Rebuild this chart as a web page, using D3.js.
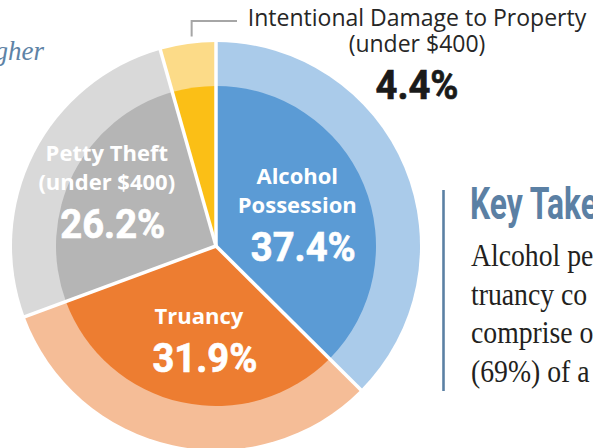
<!DOCTYPE html>
<html><head><meta charset="utf-8">
<script src="https://cdn.jsdelivr.net/npm/d3@7"></script>
<style>html,body{margin:0;padding:0;background:#fff;overflow:hidden}</style>
</head><body>
<svg id="c" width="593" height="448"></svg>
<script>
// ---- data ----
const categories = ["Alcohol Possession", "Truancy", "Petty Theft (under $400)", "Intentional Damage to Property (under $400)"];
const labelLines = [["Alcohol", "Possession"], ["Truancy"], ["Petty Theft", "(under $400)"], ["Intentional Damage to Property", "(under $400)"]];
const values = [37.4, 31.9, 26.2, 4.4];
const innerColors = ["#5B9BD5", "#ED7D31", "#B5B5B5", "#FBBF16"];
const outerColors = ["#AACBEA", "#F5BD97", "#D9D9D9", "#FCDB88"];
const titleFragment = "gher";
const takeawayTitle = "Key Takeaways";
const takeawayLines = ["Alcohol pe", "truancy co", "comprise o", "(69%) of a"];

// ---- layout ----
const W = 593, H = 448;
const cx = 216, cy = 246, rIn = 160, rOut = 204;
const insideLabel = { r: [87, 96, 122], tweak: [1.7, -2, -0.5] };
const svg = d3.select("#c");
svg.append("rect").attr("width", W).attr("height", H).attr("fill", "#fff");

const fmt = v => d3.format(".1f")(v) + "%";
const pie = d3.pie().sort(null).value(d => d);
const arcsData = pie(values);
const outerArc = d3.arc().innerRadius(0).outerRadius(rOut);
const innerArc = d3.arc().innerRadius(0).outerRadius(rIn);

const g = svg.append("g").attr("transform", `translate(${cx},${cy})`);
g.selectAll("path.outer").data(arcsData).join("path").attr("class", "outer")
  .attr("d", outerArc).attr("fill", (d, i) => outerColors[i]);
g.selectAll("path.inner").data(arcsData).join("path").attr("class", "inner")
  .attr("d", innerArc).attr("fill", (d, i) => innerColors[i]);
const pt = (a, r) => [Math.sin(a) * r, -Math.cos(a) * r];
g.selectAll("line.sep").data(arcsData).join("line").attr("class", "sep")
  .attr("x1", 0).attr("y1", 0)
  .attr("x2", d => pt(d.startAngle, rOut + 1)[0])
  .attr("y2", d => pt(d.startAngle, rOut + 1)[1])
  .attr("stroke", "#fff").attr("stroke-width", 3.5);

// inside labels
const nameFont = "'Open Sans', 'Noto Sans', sans-serif";
const numFont = "Roboto, 'Liberation Sans', sans-serif";
function numText(sel, x, y, color, txt) {
  return sel.append("text").attr("transform", `translate(${x},${y}) scale(0.93,1)`)
    .attr("text-anchor", "middle").attr("fill", color)
    .attr("stroke", color).attr("stroke-width", 0.7)
    .style("font-family", numFont).style("font-weight", 700).style("font-size", "41px")
    .text(txt);
}
arcsData.slice(0, 3).forEach((d, i) => {
  const a = (d.startAngle + d.endAngle) / 2 + insideLabel.tweak[i] * Math.PI / 180;
  const [x, y] = pt(a, insideLabel.r[i]);
  const lines = labelLines[i];
  const blockH = 16 + (lines.length - 1) * 29 + 48;
  const top = y - blockH / 2;
  lines.forEach((t, k) => {
    g.append("text").attr("x", x).attr("y", top + 16 + k * 29)
      .attr("text-anchor", "middle").attr("fill", "#fff")
      .style("font-family", nameFont).style("font-weight", 700).style("font-size", "22px")
      .text(t);
  });
  const by = top + 16 + (lines.length - 1) * 29 + 48;
  numText(g, x + 6, by, "#fff", fmt(values[i]));
});

// outside label for small slice
const small = arcsData[3];
const la = (small.startAngle + small.endAngle) / 2 + 1.3 * Math.PI / 180;
const [lx, ly] = pt(la, rOut + 7);
const leaderY = 21, leaderEndX = 237, olx = 417;
g.append("path")
  .attr("d", `M${lx},${ly}V${leaderY - cy}H${leaderEndX - cx}`)
  .attr("fill", "none").attr("stroke", "#A6A6A6").attr("stroke-width", 2);
svg.append("text").attr("x", olx).attr("y", 26).attr("text-anchor", "middle").attr("fill", "#262626")
  .style("font-family", nameFont).style("font-size", "23px").text(labelLines[3][0]);
svg.append("text").attr("x", olx).attr("y", 52).attr("text-anchor", "middle").attr("fill", "#262626")
  .style("font-family", nameFont).style("font-size", "23px").text(labelLines[3][1]);
numText(svg, olx, 99, "#1a1a1a", fmt(values[3]));

// cropped title fragment
svg.append("text").attr("x", 44).attr("y", 60).attr("text-anchor", "end").attr("fill", "#5E83A6")
  .style("font-family", "'Liberation Serif', serif").style("font-style", "italic").style("font-size", "27px")
  .text(titleFragment);

// key takeaways
svg.append("line").attr("x1", 443.5).attr("x2", 443.5).attr("y1", 190).attr("y2", 391)
  .attr("stroke", "#5B80A4").attr("stroke-width", 2.6);
svg.append("text").attr("transform", "translate(470,219) scale(0.73,1)").attr("fill", "#5B80A4")
  .style("font-family", numFont).style("font-weight", 700).style("font-size", "43.5px")
  .text(takeawayTitle);
takeawayLines.forEach((t, k) => {
  svg.append("text").attr("transform", `translate(471,${266 + k * 38.6}) scale(0.88,1)`).attr("fill", "#231F20")
    .style("font-family", "'Liberation Serif', serif").style("font-size", "31.5px")
    .text(t);
});
</script>
</body></html>
